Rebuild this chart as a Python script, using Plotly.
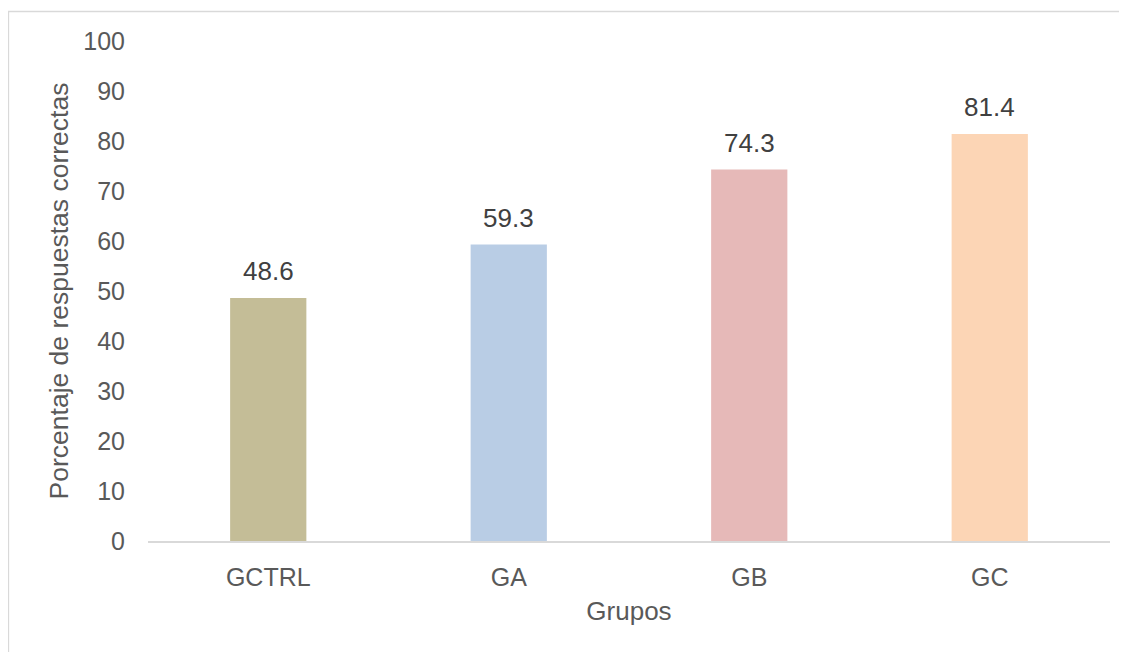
import plotly.graph_objects as go

categories = ["GCTRL", "GA", "GB", "GC"]
values = [48.6, 59.3, 74.3, 81.4]
colors = ["#C4BD97", "#B9CDE5", "#E6B9B8", "#FCD5B5"]
y_ticks = [0, 10, 20, 30, 40, 50, 60, 70, 80, 90, 100]

# page has an 8px body margin; figure sized so it fills the window
W, H = 1135, 660
L, R, T, B = 140, 33, 33, 127
pw, ph = W - L - R, H - T - B

FONT = "Liberation Sans, Arial"

fig = go.Figure()
fig.add_trace(go.Bar(x=categories, y=values, marker=dict(color=colors, line=dict(width=0)),
                     width=0.317, hoverinfo="x+y"))

for c, v in zip(categories, values):
    fig.add_annotation(x=c, y=v, text=f"{v:.1f}", showarrow=False, yanchor="bottom",
                       yshift=10, font=dict(size=26, color="#404040", family=FONT))

fig.add_shape(type="rect", xref="paper", yref="paper",
              x0=(0.5 - L) / pw, x1=(W + 20 - L) / pw,
              y0=(T + ph - (H + 20)) / ph, y1=(T + ph - 3.5) / ph,
              line=dict(color="#D9D9D9", width=1.3), fillcolor="rgba(0,0,0,0)", layer="below")

fig.update_layout(
    width=W, height=H,
    margin=dict(l=L, r=R, t=T, b=B, autoexpand=False),
    paper_bgcolor="white", plot_bgcolor="white",
    showlegend=False,
    font=dict(family=FONT, color="#595959", size=25),
    bargap=0.683,
)
fig.update_xaxes(
    showgrid=False, showline=True, linecolor="#D9D9D9", linewidth=1.5,
    ticks="", tickfont=dict(size=25, color="#595959"), ticklabelstandoff=13,
    title=dict(text="Grupos", font=dict(size=26, color="#595959"), standoff=12),
)
fig.update_yaxes(
    range=[0, 100], tickvals=y_ticks, showgrid=False, zeroline=False, showline=False,
    ticks="", tickfont=dict(size=25, color="#595959"), ticklabelstandoff=22,
    title=dict(text="Porcentaje de respuestas correctas", font=dict(size=26.5, color="#595959"), standoff=7),
)

fig.write_html("out.html")
